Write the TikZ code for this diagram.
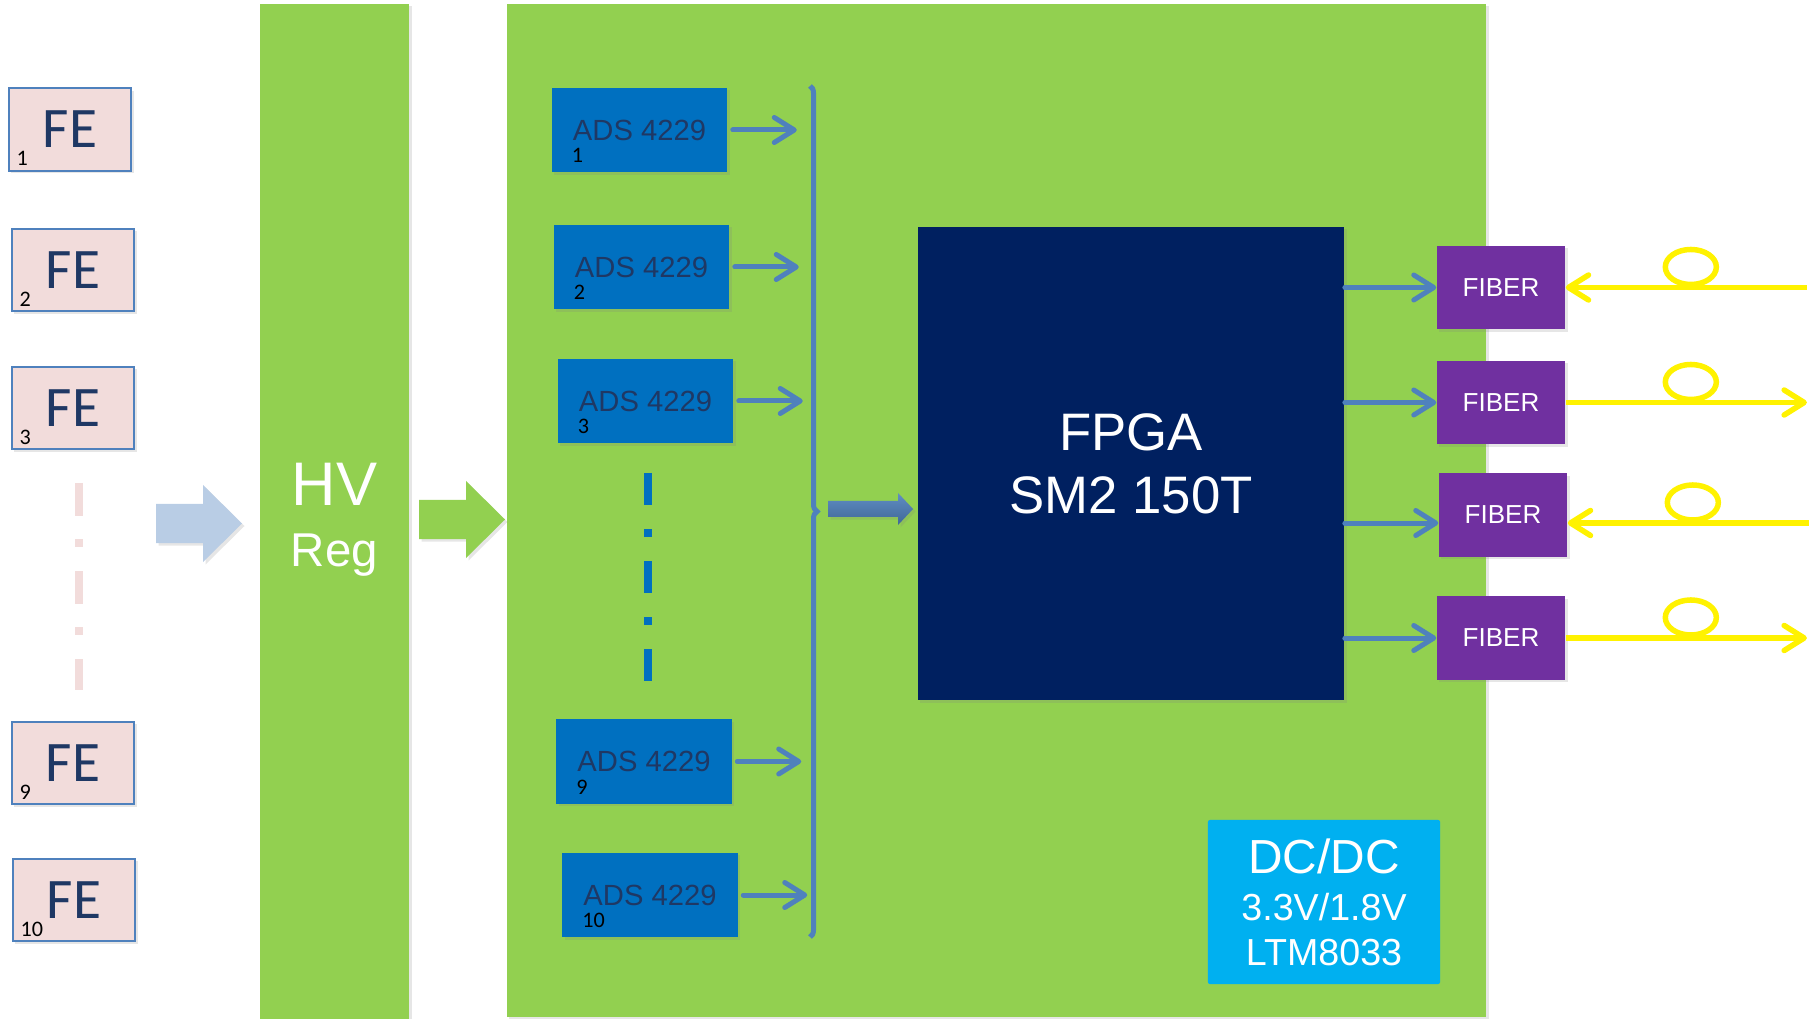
\documentclass[tikz,border=0pt]{standalone}
\usepackage{fontspec}
\setmainfont{Liberation Sans}
\newfontfamily\calibri{Carlito}
\usetikzlibrary{arrows.meta,shadows,decorations.pathreplacing}

\definecolor{board}{HTML}{92D050}
\definecolor{fepink}{HTML}{F2DCDB}
\definecolor{feline}{HTML}{4F81BD}
\definecolor{navytext}{HTML}{1F3864}
\definecolor{adsblue}{HTML}{0070C0}
\definecolor{fpganavy}{HTML}{002060}
\definecolor{fiberpurple}{HTML}{7030A0}
\definecolor{dcblue}{HTML}{00B0F0}
\definecolor{linkblue}{HTML}{4F81BD}
\definecolor{lightarrow}{HTML}{B9CDE5}

\begin{document}
\begin{tikzpicture}[
    x=0.01cm, y=-0.01cm,
    every node/.style={inner sep=0pt},
    shadowed/.style={drop shadow={shadow xshift=0.025cm, shadow yshift=-0.025cm, opacity=0.2}},
    fe/.style={draw=feline, line width=0.02cm, fill=fepink, shadowed, minimum width=1.22cm, minimum height=0.82cm, text=navytext, font=\calibri\fontsize{16.3}{18}\selectfont},
    ads/.style={fill=adsblue, shadowed, minimum width=1.75cm, minimum height=0.84cm, text=navytext, font=\fontsize{8.3}{10}\selectfont},
    num/.style={anchor=west, font=\calibri\fontsize{6.3}{7}\selectfont},
    fiber/.style={fill=fiberpurple, shadowed, minimum width=1.28cm, minimum height=0.83cm, text=white, font=\fontsize{7.4}{9}\selectfont},
    link/.style={draw=linkblue, line width=0.05cm, line cap=round, -{Straight Barb[length=0.2cm, width=0.25cm, round]}},
    light/.style={draw=yellow, line width=0.055cm, -{Straight Barb[length=0.2cm, width=0.25cm, round]}},
    coil/.style={draw=yellow, line width=0.055cm}
]

\useasboundingbox (0,0) rectangle (1810,1019);

% HV regulator and readout board
\node[fill=board, shadowed, minimum width=1.49cm, minimum height=10.15cm] (hv) at (334.5,511.5) {};
\node[anchor=base, text=white, font=\fontsize{17.5}{20}\selectfont] (hvtxt) at (334.5,505) {HV};
\node[anchor=base, text=white, font=\fontsize{13.5}{16}\selectfont] (regtxt) at (334.5,567) {Reg};
\node[fill=board, shadowed, minimum width=9.79cm, minimum height=10.13cm] (board) at (996.5,510.5) {};

% front ends
\foreach \i/\x/\y in {1/70/129.5, 2/73/270, 3/73/408, 9/73/763, 10/74/900} {
  \node[fe] (fe\i) at (\x,\y) {FE};
  \node[num] (fenum\i) at ([xshift=0.08cm, yshift=0.13cm]fe\i.south west) {\i};
}
\draw[fepink, line width=0.08cm, dash pattern=on 0.33cm off 0.23cm on 0.08cm off 0.24cm] (79,483) -- (79,690);

% block arrows
\fill[lightarrow, shadowed] (156,504) -- (203,504) -- (203,485) -- (242,523.5) -- (203,562) -- (203,543) -- (156,543) -- cycle;
\fill[board, shadowed] (419,500) -- (466,500) -- (466,481) -- (505,519.5) -- (466,558) -- (466,539) -- (419,539) -- cycle;

% ADCs
\foreach \i/\x/\y in {1/639.5/130, 2/641.5/267, 3/645.5/401, 9/644/761.5, 10/650/895} {
  \node[ads] (ads\i) at (\x,\y) {ADS 4229};
  \node[num] (adsnum\i) at ([xshift=0.2cm, yshift=0.17cm]ads\i.south west) {\i};
  \draw[link] ([xshift=0.05cm]ads\i.east) -- ++(64,0);
}
\draw[adsblue, line width=0.08cm, dash pattern=on 0.32cm off 0.24cm on 0.08cm off 0.24cm] (648,473) -- (648,681);

% bus
\draw[linkblue, line width=0.05cm, decorate, decoration={brace, amplitude=0.07cm}] (810,86) -- (810,937);
\path[top color=linkblue!90!white, bottom color=linkblue!80!black, shadowed] (828,501) -- (898,501) -- (898,493) -- (913,509) -- (898,525) -- (898,517) -- (828,517) -- cycle;

% FPGA
\node[fill=fpganavy, shadowed, minimum width=4.26cm, minimum height=4.73cm, text=white, align=center, font=\fontsize{15}{17.9}\selectfont] (fpga) at (1131,463.5) {FPGA\\SM2 150T};

% optical links
\foreach \i/\x/\y/\d in {1/1501/287.5/0, 2/1501/402.5/0, 3/1503/515/-0.08, 4/1501/638/0} {
  \node[fiber] (fib\i) at (\x,\y) {FIBER};
  \coordinate (near\i) at ([yshift=\d cm]fib\i.east);
  \coordinate (far\i) at ([xshift=2.41cm]near\i);
  \draw[link] (fpga.east |- near\i) -- (fib\i.west |- near\i);
  \draw[coil] ([xshift=1.25cm, yshift=0.205cm]near\i) ellipse [x radius=0.255cm, y radius=0.175cm];
}
\draw[light] (far1) -- (near1);
\draw[light] (near2) -- (far2);
\draw[light] (far3) -- (near3);
\draw[light] (near4) -- (far4);

% power
\node[fill=dcblue, rounded corners=0.02cm, minimum width=2.32cm, minimum height=1.64cm, text=white, align=center, font=\fontsize{10.7}{12.8}\selectfont] (dcdc) at (1324,902) {{\fontsize{13.6}{13.6}\selectfont DC/DC}\\[0.6pt]3.3V/1.8V\\LTM8033};

\end{tikzpicture}
\end{document}
